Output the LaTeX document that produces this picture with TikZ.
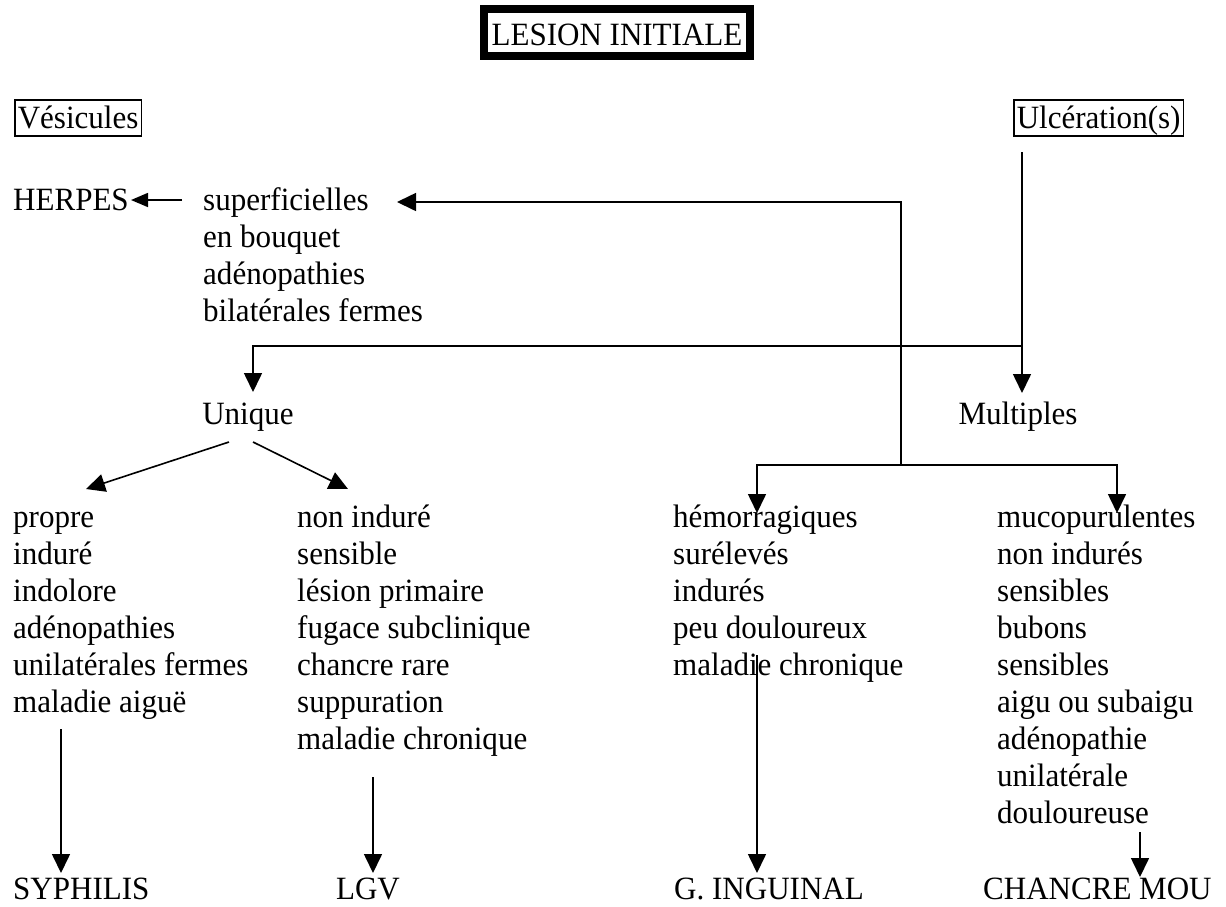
\documentclass[tikz,border=0pt]{standalone}
\usepackage{fontspec}
\setmainfont[FakeStretch=0.955]{Liberation Serif}
\usetikzlibrary{arrows.meta}
\newcommand\fl{\rule{0pt}{26pt}}
\begin{document}
\begin{tikzpicture}[x=1pt,y=-1pt,
  every node/.style={inner sep=0pt,font=\fontsize{32.5}{37}\selectfont},
  col/.style={anchor=north west,align=left},
  lbl/.style={anchor=base west},
  ln/.style={line width=1.6pt},
  arr/.style={ln,-{Triangle[length=19pt,width=18pt]}},
  sarr/.style={ln,-{Triangle[length=17pt,width=14pt]}},
  thinbox/.style={draw,line width=1.5pt,text height=26pt,text depth=6pt,inner ysep=2pt,inner xsep=3pt,anchor=base west}
]
\useasboundingbox (0,0) rectangle (1226,906);
\fill[white] (0,0) rectangle (1226,906);

% title and top boxes
\node[draw,line width=8pt,inner xsep=8pt,inner ysep=8pt,text height=28pt,text depth=3pt,anchor=base] (title) at (617,45) {LESION INITIALE};
\node[thinbox] (ves) at (14,128) {Vésicules\hspace{7pt}};
\node[thinbox] (ulc) at (1013,128) {Ulcération(s)};

% text nodes
\node[lbl] (herpes) at (13,210) {HERPES};
\node[col] (sup) at (203,184) {\fl superficielles\\en bouquet\\adénopathies\\bilatérales fermes};
\node[anchor=base] (unique) at (248,424) {Unique};
\node[anchor=base] (multiples) at (1018,424) {Multiples};
\node[col] (c1) at (13,501) {\fl propre\\induré\\indolore\\adénopathies\\unilatérales fermes\\maladie aiguë};
\node[col] (c2) at (297,501) {\fl non induré\\sensible\\lésion primaire\\fugace subclinique\\chancre rare\\suppuration\\maladie chronique};
\node[col] (c3) at (673,501) {\fl hémorragiques\\surélevés\\indurés\\peu douloureux\\maladie chronique};
\node[col] (c4) at (997,501) {\fl mucopurulentes\\non indurés\\sensibles\\bubons\\sensibles\\aigu ou subaigu\\adénopathie\\unilatérale\\douloureuse};
\node[lbl] (syph) at (13,899) {SYPHILIS};
\node[anchor=base] (lgv) at (368,899) {LGV};
\node[lbl] (ging) at (674,899) {G. INGUINAL};
\node[lbl] (cmou) at (983,899) {CHANCRE MOU};

% connector points
\coordinate (hs) at (182,200);
\coordinate (ht) at (131,200);
\coordinate (j1) at (901,202);
\coordinate (j2) at (901,465);
\coordinate (supin) at (397,202);
\coordinate (t3) at (757,513);
\coordinate (t4) at (1117,513);
\coordinate (u1) at (1022,152);
\coordinate (u2) at (1022,346);
\coordinate (mt) at (1022,393);
\coordinate (ut) at (253,392);
\coordinate (d1) at (229,442);
\coordinate (d1t) at (86,489);
\coordinate (d2) at (253,442);
\coordinate (d2t) at (348,489);
\coordinate (s1) at (61,729);
\coordinate (s1t) at (61,873);
\coordinate (s2) at (373,777);
\coordinate (s2t) at (373,873);
\coordinate (s3) at (757,655);
\coordinate (s3t) at (757,873);
\coordinate (s4) at (1140,832);
\coordinate (s4t) at (1140,877);

% connectors
\draw[sarr] (hs) -- (ht);
\draw[arr] (j2) -- (j1) -- (supin);
\draw[arr] (j2) -| (t3);
\draw[arr] (j2) -| (t4);
\draw[arr] (u1) -- (mt);
\draw[arr] (u2) -| (ut);
\draw[arr] (d1) -- (d1t);
\draw[arr] (d2) -- (d2t);
\draw[arr] (s1) -- (s1t);
\draw[arr] (s2) -- (s2t);
\draw[arr] (s3) -- (s3t);
\draw[arr] (s4) -- (s4t);
\end{tikzpicture}
\end{document}
